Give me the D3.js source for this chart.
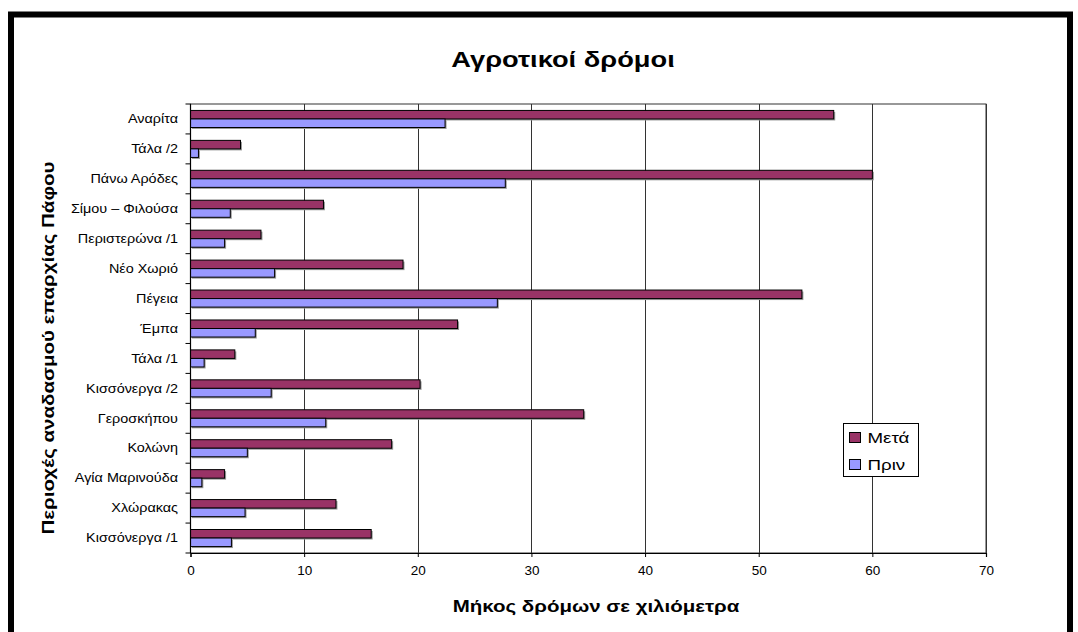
<!DOCTYPE html>
<html>
<head>
<meta charset="utf-8">
<script src="https://cdn.jsdelivr.net/npm/d3@7"></script>
<style>
  html, body { margin: 0; padding: 0; background: #fff; }
  svg { display: block; font-family: "Liberation Sans", Arial, sans-serif; }
</style>
</head>
<body>
<svg id="chart" width="1078" height="632"></svg>
<script>
// Regions of the Paphos district land consolidation (top to bottom)
const categories = [
  "Αναρίτα", "Τάλα /2", "Πάνω  Αρόδες", "Σίμου – Φιλούσα", "Περιστερώνα /1",
  "Νέο Χωριό", "Πέγεια", "Έμπα", "Τάλα /1", "Κισσόνεργα /2",
  "Γεροσκήπου", "Κολώνη", "Αγία Μαρινούδα", "Χλώρακας", "Κισσόνεργα /1"
];
const seriesNames = ["Μετά", "Πριν"];
// Rural road length in km, after consolidation
const afterValues = [56.6, 4.4, 60.0, 11.7, 6.2, 18.7, 53.8, 23.5, 3.9, 20.2, 34.6, 17.7, 3.0, 12.8, 15.9];
// Rural road length in km, before consolidation
const beforeValues = [22.4, 0.7, 27.7, 3.5, 3.0, 7.4, 27.0, 5.7, 1.2, 7.1, 11.9, 5.0, 1.0, 4.8, 3.6];
const xTicks = [0, 10, 20, 30, 40, 50, 60, 70];
const colors = ["#993366", "#9999FF"];

const svg = d3.select("#chart");

// outer frame
svg.append("rect")
  .attr("x", 11).attr("y", 14.5)
  .attr("width", 1059).attr("height", 700)
  .attr("fill", "#fff").attr("stroke", "#000").attr("stroke-width", 6);

const plot = { left: 190.5, right: 986, top: 104, bottom: 553 };

const x = d3.scaleLinear().domain([0, 70]).range([plot.left, plot.right]);
const y = d3.scaleBand().domain(categories).range([plot.top, plot.bottom])
  .paddingInner(0.43).paddingOuter(0.215);
const ySub = d3.scaleBand().domain(seriesNames).range([0, y.bandwidth()]);

// plot area background
svg.append("rect")
  .attr("x", plot.left).attr("y", plot.top)
  .attr("width", plot.right - plot.left).attr("height", plot.bottom - plot.top)
  .attr("fill", "#fff").attr("stroke", "#333").attr("stroke-width", 1);

// vertical gridlines
svg.append("g").selectAll("line")
  .data(xTicks.slice(1))
  .join("line")
  .attr("x1", d => Math.round(x(d)) + 0.5).attr("x2", d => Math.round(x(d)) + 0.5)
  .attr("y1", plot.top).attr("y2", plot.bottom)
  .attr("stroke", "#333").attr("stroke-width", 1);

// bars
const rows = categories.map((c, i) => ({ cat: c, vals: [afterValues[i], beforeValues[i]] }));
const groups = svg.append("g").selectAll("g")
  .data(rows)
  .join("g")
  .attr("transform", d => `translate(0,${y(d.cat)})`);

// soft shadow under each bar
groups.selectAll("rect.shadow")
  .data(d => d.vals.map((v, k) => ({ v, s: seriesNames[k], k })))
  .join("rect")
  .attr("class", "shadow")
  .attr("x", x(0) + 1.5)
  .attr("y", d => ySub(d.s) + 1.5)
  .attr("width", d => x(d.v) - x(0))
  .attr("height", ySub.bandwidth())
  .attr("fill", "#999");

groups.selectAll("rect.bar")
  .data(d => d.vals.map((v, k) => ({ v, s: seriesNames[k], k })))
  .join("rect")
  .attr("class", "bar")
  .attr("x", x(0))
  .attr("y", d => ySub(d.s))
  .attr("width", d => x(d.v) - x(0))
  .attr("height", ySub.bandwidth())
  .attr("fill", d => colors[d.k])
  .attr("stroke", "#000").attr("stroke-width", 1);

// y axis line and tick marks between categories
svg.append("line")
  .attr("x1", plot.left).attr("x2", plot.left)
  .attr("y1", plot.top).attr("y2", plot.bottom)
  .attr("stroke", "#000").attr("stroke-width", 1.2);
const step = y.step();
svg.append("g").selectAll("line")
  .data(d3.range(categories.length + 1))
  .join("line")
  .attr("x1", plot.left - 5).attr("x2", plot.left)
  .attr("y1", i => plot.top + i * step).attr("y2", i => plot.top + i * step)
  .attr("stroke", "#000").attr("stroke-width", 1);

// category labels (slightly wide lettering)
svg.append("g").selectAll("text")
  .data(categories)
  .join("text")
  .attr("transform", d => `translate(178,${y(d) + y.bandwidth() / 2}) scale(1.2,1)`)
  .attr("dy", "0.35em")
  .attr("text-anchor", "end")
  .attr("font-size", 12)
  .attr("fill", "#000")
  .text(d => d);

// x axis
const xAxis = d3.axisBottom(x).tickValues(xTicks).tickSize(4).tickPadding(8).tickFormat(d3.format("d"));
const gx = svg.append("g")
  .attr("transform", `translate(0,${plot.bottom})`)
  .call(xAxis);
gx.select(".domain").attr("stroke", "#000").attr("stroke-width", 1.2);
gx.selectAll(".tick line").attr("stroke", "#000");
gx.selectAll("text")
  .attr("font-size", 13.5)
  .attr("font-family", "\"Liberation Sans\", Arial, sans-serif")
  .attr("fill", "#000");

// title
svg.append("text")
  .attr("transform", "translate(563,67) scale(1.24,1)")
  .attr("text-anchor", "middle")
  .attr("font-size", 22).attr("font-weight", "bold")
  .text("Αγροτικοί δρόμοι");

// axis titles
svg.append("text")
  .attr("transform", "translate(596,612) scale(1.28,1)")
  .attr("text-anchor", "middle")
  .attr("font-size", 16).attr("font-weight", "bold")
  .text("Μήκος δρόμων σε χιλιόμετρα");

svg.append("text")
  .attr("transform", "translate(53.5,348) rotate(-90) scale(1.28,1)")
  .attr("text-anchor", "middle")
  .attr("font-size", 16).attr("font-weight", "bold")
  .text("Περιοχές αναδασμού επαρχίας Πάφου");

// legend
const legend = svg.append("g").attr("transform", "translate(843.5,423.5)");
legend.append("rect")
  .attr("width", 75).attr("height", 53)
  .attr("fill", "#fff").attr("stroke", "#000").attr("stroke-width", 1);
const li = legend.selectAll("g.item")
  .data(seriesNames)
  .join("g")
  .attr("class", "item")
  .attr("transform", (d, i) => `translate(6,${9 + i * 27})`);
li.append("rect")
  .attr("width", 11).attr("height", 10)
  .attr("fill", (d, i) => colors[i])
  .attr("stroke", "#000").attr("stroke-width", 1);
li.append("text")
  .attr("transform", "translate(18,5) scale(1.25,1)")
  .attr("dy", "0.36em")
  .attr("font-size", 15)
  .text(d => d);
</script>
</body>
</html>
